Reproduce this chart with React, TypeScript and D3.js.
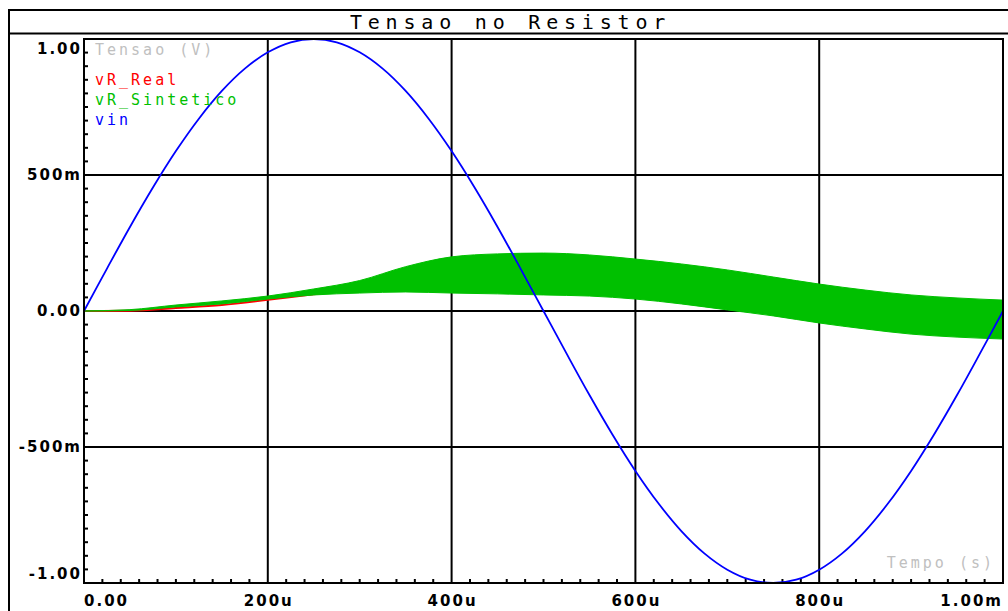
import React from "react";
import * as d3 from "d3";

// ---- data ----
const title = "Tensao no Resistor";
const yAxisName = "Tensao (V)";
const xAxisName = "Tempo (s)";
const seriesNames = ["vR_Real", "vR_Sintetico", "vin"];
const seriesColors = ["#ff0000", "#00c000", "#0000ff"];

// time samples (µs) for vin
const vinTimes = [0, 25, 50, 75, 100, 125, 150, 175, 200, 225, 250, 275, 300, 325, 350, 375, 400, 425, 450, 475, 500,
  525, 550, 575, 600, 625, 650, 675, 700, 725, 750, 775, 800, 825, 850, 875, 900, 925, 950, 975, 1000];
const vinValues = [0, 0.156, 0.309, 0.454, 0.588, 0.707, 0.809, 0.891, 0.951, 0.988, 1.0, 0.988, 0.951, 0.891, 0.809,
  0.707, 0.588, 0.454, 0.309, 0.156, 0, -0.156, -0.309, -0.454, -0.588, -0.707, -0.809, -0.891, -0.951, -0.988, -1.0,
  -0.988, -0.951, -0.891, -0.809, -0.707, -0.588, -0.454, -0.309, -0.156, 0];

// envelope of vR_Sintetico (µs)
const synTimes = [0, 50, 100, 150, 200, 250, 300, 350, 400, 450, 500, 550, 600, 650, 700, 750, 800, 850, 900, 950, 1000];
const synUpper = [0, 0.005, 0.022, 0.037, 0.055, 0.081, 0.112, 0.163, 0.199, 0.21, 0.213, 0.206, 0.191, 0.173, 0.151,
  0.125, 0.099, 0.077, 0.059, 0.048, 0.04];
const synLower = [0, 0.002, 0.015, 0.026, 0.044, 0.059, 0.066, 0.07, 0.066, 0.063, 0.059, 0.055, 0.044, 0.026, 0.004,
  -0.018, -0.044, -0.066, -0.085, -0.096, -0.103];

// vR_Real
const realTimes = [0, 50, 100, 150, 200, 250, 300, 350, 400, 450, 500, 550, 600, 650, 700, 750, 800, 850, 900, 950, 1000];
const realValues = [0, 0.001, 0.011, 0.022, 0.041, 0.062, 0.08, 0.1, 0.12, 0.13, 0.13, 0.125, 0.115, 0.1, 0.08,
  0.055, 0.03, 0.005, -0.012, -0.025, -0.032];

const xTicks = [0, 200, 400, 600, 800, 1000];
const xTickLabels = ["0.00", "200u", "400u", "600u", "800u", "1.00m"];
const yTicks = [1, 0.5, 0, -0.5, -1];
const yTickLabels = ["1.00", "500m", "0.00", "-500m", "-1.00"];

const W = 1008;
const H = 611;
const L = 84, R = 1003, T = 39, B = 583;

export default function App() {
  const x = d3.scaleLinear().domain([0, 1000]).range([L, R]);
  const y = d3.scaleLinear().domain([-1, 1]).range([B, T]);

  const vinLine = d3.line<number>()
    .x((_, i) => x(vinTimes[i]))
    .y((d) => y(d))
    .curve(d3.curveCatmullRom);
  const realLine = d3.line<number>()
    .x((_, i) => x(realTimes[i]))
    .y((d) => y(d))
    .curve(d3.curveMonotoneX);
  const synArea = d3.area<number>()
    .x((_, i) => x(synTimes[i]))
    .y0((_, i) => y(synLower[i]))
    .y1((d) => y(d))
    .curve(d3.curveMonotoneX);

  const minorX = d3.range(0, 1001, 20).filter((t) => t % 200 !== 0);
  const minorY = d3.range(-20, 21).map((k) => k * 0.05).filter((v) => Math.abs((v * 2) - Math.round(v * 2)) > 1e-6);

  const mono = "'DejaVu Sans Mono', monospace";
  const sans = "'DejaVu Sans', sans-serif";
  const ls = 3;
  const tls = 2;

  const yLabelPos = (v: number, i: number) => {
    if (i === 0) return T + 10;
    if (i === yTicks.length - 1) return B - 9;
    return y(v);
  };

  return (
    <svg width={W} height={H} style={{ position: "absolute", left: 0, top: 0, background: "#fff" }}>
      {/* outer frame */}
      <rect x={9} y={10} width={1040} height={700} fill="none" stroke="#000" strokeWidth={2} />
      <line x1={9} x2={W} y1={33.5} y2={33.5} stroke="#000" strokeWidth={2} />
      <text x={508 + 2.5} y={22} textAnchor="middle" dominantBaseline="central" fontFamily={mono} fontSize={20}
        letterSpacing={5.8} fill="#000">{title}</text>

      {/* grid */}
      {xTicks.map((t) => (
        <line key={"gx" + t} x1={x(t)} x2={x(t)} y1={T} y2={B} stroke="#000" strokeWidth={2} />
      ))}
      {yTicks.map((v) => (
        <line key={"gy" + v} x1={L} x2={R} y1={y(v)} y2={y(v)} stroke="#000" strokeWidth={2} />
      ))}
      {minorX.map((t) => (
        <line key={"mx" + t} x1={x(t)} x2={x(t)} y1={B} y2={B - 4} stroke="#000" strokeWidth={2} />
      ))}
      {minorY.map((v) => (
        <line key={"my" + v} x1={L} x2={L + 4} y1={y(v)} y2={y(v)} stroke="#000" strokeWidth={2} />
      ))}

      {/* series */}
      <path d={realLine(realValues) || ""} fill="none" stroke={seriesColors[0]} strokeWidth={2} />
      <path d={synArea(synUpper) || ""} fill={seriesColors[1]} stroke={seriesColors[1]} strokeWidth={1} />
      <path d={vinLine(vinValues) || ""} fill="none" stroke={seriesColors[2]} strokeWidth={1.8} />

      {/* plot frame */}
      <rect x={L} y={T} width={R - L} height={B - T} fill="none" stroke="#000" strokeWidth={2} />

      {/* y tick labels */}
      {yTicks.map((v, i) => (
        <text key={"yl" + v} x={80 + tls} y={yLabelPos(v, i)} textAnchor="end" dominantBaseline="central"
          fontFamily={sans} fontSize={15} fontWeight="bold" letterSpacing={tls} fill="#000">{yTickLabels[i]}</text>
      ))}
      {/* x tick labels */}
      {xTicks.map((t, i) => {
        const anchor = i === 0 ? "start" : i === xTicks.length - 1 ? "end" : "middle";
        const xx = i === 0 ? x(t) : i === xTicks.length - 1 ? 1001 + tls : x(t) + tls / 2;
        return (
          <text key={"xl" + t} x={xx} y={601} textAnchor={anchor} dominantBaseline="central"
            fontFamily={sans} fontSize={15} fontWeight="bold" letterSpacing={tls} fill="#000">{xTickLabels[i]}</text>
        );
      })}

      {/* axis names and legend */}
      <text x={95} y={50} dominantBaseline="central" fontFamily={mono} fontSize={15} letterSpacing={ls}
        fill="#c0c0c0">{yAxisName}</text>
      {seriesNames.map((n, i) => (
        <text key={n} x={95} y={80 + i * 20} dominantBaseline="central" fontFamily={mono} fontSize={15}
          letterSpacing={ls} fill={seriesColors[i]}>{n}</text>
      ))}
      <text x={992 + ls} y={563} textAnchor="end" dominantBaseline="central" fontFamily={mono} fontSize={15}
        letterSpacing={ls} fill="#c0c0c0">{xAxisName}</text>
    </svg>
  );
}
